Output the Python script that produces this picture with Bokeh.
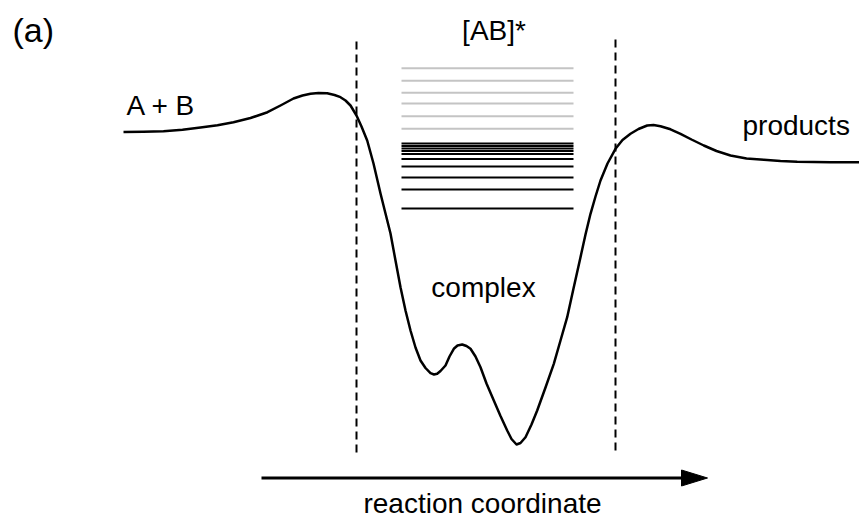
from bokeh.plotting import figure
from bokeh.models import Range1d
from bokeh.core.properties import value
from bokeh.embed import file_html
from bokeh.resources import INLINE

# Schematic potential energy curve (image-space units: x right, y down)
curve_x = [123, 143, 163, 182, 200, 217, 233, 250, 267, 280, 293, 302, 310, 318, 326.7, 334,
           340, 345, 350, 356, 361, 366.7, 373, 380, 385, 390, 395, 400, 405, 410, 415, 420,
           425, 430, 433.5, 436.7, 440, 445, 449, 453.3, 457, 461.7, 466, 470, 475, 480,
           486, 493.3, 500, 506.7, 511, 516, 520, 525, 531, 536.7, 545, 553.3, 560, 566.7,
           573, 580, 585, 590, 595, 600, 607, 615, 622, 630, 638, 646.7, 653, 660, 670, 680,
           691, 703.3, 716, 730, 746, 763.3, 780, 796.7, 830, 859]
curve_y = [131.5, 131.2, 130.7, 129.3, 127, 124.7, 121.7, 117.5, 111.7, 105, 98, 95, 93.3,
           92.4, 92.7, 94.5, 96.7, 100, 105, 115, 126, 140, 163, 193, 213, 233, 260, 286.7,
           310, 330, 347, 360, 367.5, 372.7, 374, 373.3, 370.5, 365, 356, 348.3, 345, 344,
           345.5, 348.3, 356, 366.7, 383, 400, 415.5, 430, 438.5, 444, 442.5, 436.7, 424,
           410, 387, 363.3, 340, 316.7, 288, 256.7, 234, 213.3, 196, 180, 163, 148.3, 139.5,
           133.3, 128.5, 125, 124.5, 125.7, 128.8, 133.3, 139, 145, 150.5, 155, 158, 159.3,
           160.5, 161.3, 161.7, 161.7]

# Energy levels of [AB]*
gray_levels = [67.7, 80.3, 92.3, 103, 115.7, 128.3]
black_levels = [143, 145.5, 148, 150.5, 153.5, 158.5, 166, 177, 189, 208]
level_x0 = 401
level_x1 = 573

# Dashed boundaries
dash_x = [356, 615]
dash_top = [41, 39]
dash_bottom = [455, 452]

# Reaction-coordinate arrow
arrow_x0 = 261
arrow_x1 = 707
arrow_y = 477.5
head_len = 26
head_half = 8

# Labels
label_text = ["(a)", "A + B", "[AB]*", "products", "complex", "reaction coordinate"]
label_x = [12, 126, 493.5, 742, 483, 482]
label_y = [29, 105, 30, 125, 286.5, 503]
label_align = ["left", "left", "center", "left", "center", "center"]
label_size = ["34px", "28px", "28px", "28px", "28px", "28px"]

p = figure(width=859, height=521, output_backend="svg", toolbar_location=None,
           x_range=Range1d(0, 859), y_range=Range1d(521, 0), min_border=0)
p.axis.visible = False
p.grid.visible = False
p.outline_line_color = None
p.background_fill_color = "white"
p.border_fill_color = "white"

n_g = len(gray_levels)
p.segment(x0=[level_x0] * n_g, x1=[level_x1] * n_g, y0=gray_levels, y1=gray_levels,
          line_color="#c4c4c4", line_width=2)
n_b = len(black_levels)
p.segment(x0=[level_x0] * n_b, x1=[level_x1] * n_b, y0=black_levels, y1=black_levels,
          line_color="black", line_width=2)

p.segment(x0=dash_x, x1=dash_x, y0=dash_top, y1=dash_bottom, line_color="black",
          line_width=2, line_dash="8 5")

p.line(curve_x, curve_y, line_color="black", line_width=2.5, line_join="round")

p.segment(x0=[arrow_x0], x1=[arrow_x1 - head_len + 2], y0=[arrow_y], y1=[arrow_y],
          line_color="black", line_width=3)
p.patch([arrow_x1 - head_len, arrow_x1, arrow_x1 - head_len],
        [arrow_y - head_half, arrow_y, arrow_y + head_half], fill_color="black", line_color="black")

for t, x, y, a, s in zip(label_text, label_x, label_y, label_align, label_size):
    p.text(x=[x], y=[y], text=[t], text_align=a, text_baseline="alphabetic",
           text_font=value("Liberation Sans"), text_font_size=s, text_color="black")

open("out.html", "w").write(file_html(p, INLINE))
